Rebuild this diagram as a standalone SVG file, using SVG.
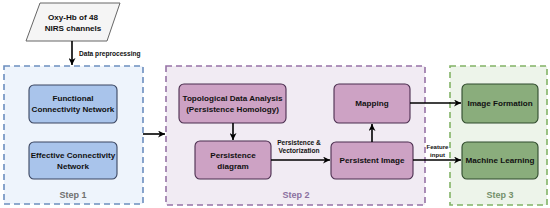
<svg xmlns="http://www.w3.org/2000/svg" width="550" height="208" viewBox="0 0 550 208">
<defs>
<marker id="ah" viewBox="0 0 10 10" refX="10" refY="5" markerWidth="7" markerHeight="7" markerUnits="userSpaceOnUse" orient="auto"><path d="M0,0 L10,5 L0,10 L3,5 Z" fill="#000"/></marker>
</defs>
<style>
text{font-family:"Liberation Sans",Arial,sans-serif;font-weight:bold;text-anchor:middle;fill:#111}
.t{font-size:8.1px}
.s{font-size:6.6px}
.f{font-size:6.1px}
.step{font-size:9px;font-weight:bold}
.c{stroke-width:1.6;stroke-dasharray:6,4}
.n{stroke-width:1.1}
.conn{stroke:#000;stroke-width:1.6;fill:none;marker-end:url(#ah)}
</style>
<rect width="550" height="208" fill="#fff"/>
<g id="input">
<path d="M40,3 L120,3 L107,41 L26,41 Z" fill="#f5f5f5" stroke="#666" stroke-width="1"/>
<text class="t" x="73" y="20">Oxy-Hb of 48</text>
<text class="t" x="73" y="31">NIRS channels</text>
</g>
<g id="step1">
<rect class="c" x="4" y="66" width="139" height="138" fill="#eef4fc" stroke="#6c8ebf"/>
<text class="step" x="73" y="198" style="fill:#707070">Step 1</text>
</g>
<g id="step2">
<rect class="c" x="166" y="66" width="259" height="139" fill="#f1ebf3" stroke="#9673a6"/>
<text class="step" x="296" y="198" style="fill:#8b70a0">Step 2</text>
</g>
<g id="step3">
<rect class="c" x="450" y="66" width="97" height="139" fill="#edf4ea" stroke="#82b366"/>
<text class="step" x="500" y="198" style="fill:#74906a">Step 3</text>
</g>
<g id="fcn">
<rect class="n" x="29" y="85" width="88" height="38" rx="5" fill="#a9c4eb" stroke="#3a4560"/>
<text class="t" x="73" y="101">Functional</text>
<text class="t" x="73" y="112">Connectivity Network</text>
</g>
<g id="ecn">
<rect class="n" x="29" y="142" width="88" height="37" rx="5" fill="#a9c4eb" stroke="#3a4560"/>
<text class="t" x="73" y="158">Effective Connectivity</text>
<text class="t" x="73" y="169">Network</text>
</g>
<g id="tda">
<rect class="n" x="179" y="84" width="107" height="39" rx="5" fill="#cda2c4" stroke="#4a2d4e"/>
<text class="t" x="232.5" y="101">Topological Data Analysis</text>
<text class="t" x="232.5" y="112">(Persistence Homology)</text>
</g>
<g id="pd">
<rect class="n" x="195" y="141" width="76" height="38" rx="5" fill="#cda2c4" stroke="#4a2d4e"/>
<text class="t" x="233" y="158">Persistence</text>
<text class="t" x="233" y="169">diagram</text>
</g>
<g id="mapping">
<rect class="n" x="334" y="84" width="76" height="39" rx="5" fill="#cda2c4" stroke="#4a2d4e"/>
<text class="t" x="372" y="106">Mapping</text>
</g>
<g id="pi">
<rect class="n" x="331" y="142" width="82" height="37" rx="5" fill="#cda2c4" stroke="#4a2d4e"/>
<text class="t" x="372" y="163">Persistent Image</text>
</g>
<g id="imgform">
<rect class="n" x="462" y="84" width="76" height="39" rx="5" fill="#8aad7c" stroke="#2f4a2c"/>
<text class="t" x="500" y="106">Image Formation</text>
</g>
<g id="ml">
<rect class="n" x="462" y="142" width="76" height="37" rx="5" fill="#8aad7c" stroke="#2f4a2c"/>
<text class="t" x="500" y="163">Machine Learning</text>
</g>
<g id="connectors">
<path class="conn" d="M72,41 L72,65"/>
<text class="s" x="79" y="55.5" style="text-anchor:start">Data preprocessing</text>
<path class="conn" d="M143,134 L165,134"/>
<path class="conn" d="M233,123 L233,140"/>
<path class="conn" d="M271,160 L330,160"/>
<text class="s" x="299" y="145">Persistence &amp;</text>
<text class="s" x="299" y="153">Vectorization</text>
<path class="conn" d="M372,142 L372,124"/>
<path class="conn" d="M410,103 L461,103"/>
<path class="conn" d="M413,160 L461,160"/>
<text class="f" x="437.5" y="149">Feature</text>
<text class="f" x="437.5" y="156.5">input</text>
</g>
</svg>
